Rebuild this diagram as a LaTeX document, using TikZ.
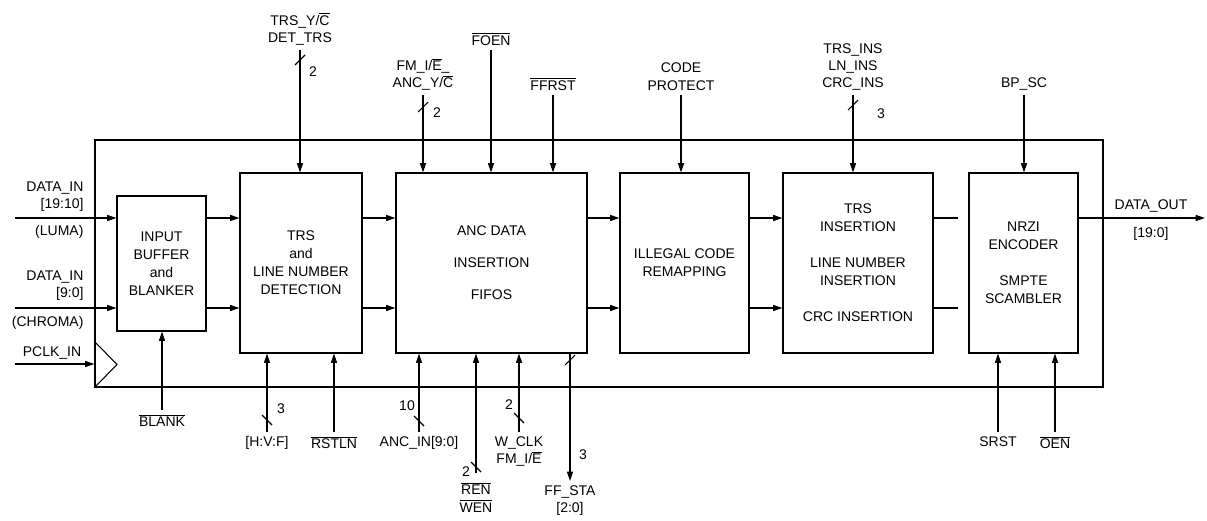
\documentclass[tikz,border=0pt]{standalone}
\usepackage{fontspec}
\setmainfont{Liberation Sans}
\usetikzlibrary{arrows.meta}
\newcommand{\ovl}[1]{$\overline{\mbox{#1}}$}
\newcommand{\slashR}[1]{\draw ([shift={(-5,5)}]#1) -- ([shift={(5,-5)}]#1);}
\newcommand{\slashL}[1]{\draw ([shift={(-5,-5)}]#1) -- ([shift={(5,5)}]#1);}

\begin{document}
\begin{tikzpicture}[
  x=0.75pt, y=-0.75pt, line width=0.8pt,
  every node/.style={font=\fontsize{10.5}{13}\selectfont},
  blk/.style={draw, rectangle, inner sep=0pt, minimum height=135pt, align=center, font=\fontsize{10.5}{13.5}\selectfont},
  sig/.style={inner sep=3pt, align=center},
  arr/.style={-{Triangle[length=7pt,width=4.5pt]}},
]
\useasboundingbox (0,0) rectangle (1207,521);

\node[draw, inner sep=0pt, minimum width=756pt, minimum height=185.25pt] (chip) at (599,263.5) {};
\node[blk, minimum width=66.75pt, minimum height=101.25pt] (buf) at (161.5,263.5) {INPUT\\BUFFER\\and\\BLANKER};
\node[blk, minimum width=91.5pt] (det) at (301,263) {TRS\\and\\LINE NUMBER\\DETECTION};
\node[blk, minimum width=143.25pt] (fifo) at (491.5,263) {ANC DATA\\[10.5pt]INSERTION\\[10.5pt]FIFOS};
\node[blk, minimum width=96.75pt] (remap) at (684.5,263) {ILLEGAL CODE\\REMAPPING};
\node[blk, minimum width=112.5pt] (ins) at (858,263) {TRS\\INSERTION\\[13.5pt]LINE NUMBER\\INSERTION\\[13.5pt]CRC INSERTION};
\node[blk, minimum width=81.75pt] (enc) at (1023.5,263) {NRZI\\ENCODER\\[13.5pt]SMPTE\\SCAMBLER};

\coordinate (up) at (0,218);
\coordinate (dn) at (0,308);
\coordinate (luma) at (15,218);
\coordinate (chroma) at (15,308);
\coordinate (pclk) at (15,364);
\coordinate (gapA) at (958,218);
\coordinate (gapB) at (958,308);
\coordinate (dout) at (1205,218);

\node[sig, anchor=east, align=right] (lumalbl) at (88,196.5) {DATA\_IN\\{[19:10]}};
\node[sig, anchor=east] (lumanote) at (88,232) {(LUMA)};
\node[sig, anchor=east, align=right] (chromalbl) at (88,285.5) {DATA\_IN\\{[9:0]}};
\node[sig, anchor=east] (chromanote) at (88,323) {(CHROMA)};
\node[sig] (pclklbl) at (52,353) {PCLK\_IN};
\node[sig] (doutlbl) at (1151,206) {DATA\_OUT};
\node[sig] (doutbus) at (1151,234) {[19:0]};

\draw[arr] (luma) -- (buf.west |- up);
\draw[arr] (chroma) -- (buf.west |- dn);
\draw[arr] (pclk) -- (chip.west |- pclk);
\draw (95,342) -- (117,364.5) -- (95,387);
\draw[arr] (buf.east |- up) -- (det.west |- up);
\draw[arr] (buf.east |- dn) -- (det.west |- dn);
\draw[arr] (det.east |- up) -- (fifo.west |- up);
\draw[arr] (det.east |- dn) -- (fifo.west |- dn);
\draw[arr] (fifo.east |- up) -- (remap.west |- up);
\draw[arr] (fifo.east |- dn) -- (remap.west |- dn);
\draw[arr] (remap.east |- up) -- (ins.west |- up);
\draw[arr] (remap.east |- dn) -- (ins.west |- dn);
\draw (ins.east |- up) -- (gapA);
\draw (ins.east |- dn) -- (gapB);
\draw[arr] (enc.east |- up) -- (dout);

\node[sig, anchor=south] (trsdet) at (300,50) {TRS\_Y/\ovl{C}\\DET\_TRS};
\node[sig, anchor=south] (ancyc) at (423,95) {FM\_I/\ovl{E}\_\\ANC\_Y/\ovl{C}};
\node[sig, anchor=south] (foen) at (491,50) {\ovl{FOEN}};
\node[sig, anchor=south] (ffrst) at (553,95) {\ovl{FFRST}};
\node[sig, anchor=south] (codeprot) at (681,95) {CODE\\PROTECT};
\node[sig, anchor=south] (trsins) at (853,95) {TRS\_INS\\LN\_INS\\CRC\_INS};
\node[sig, anchor=south] (bpsc) at (1024,95) {BP\_SC};

\draw[arr] (trsdet.south) -- (trsdet.south |- det.north);
\draw[arr] (ancyc.south) -- (ancyc.south |- fifo.north);
\draw[arr] (foen.south) -- (foen.south |- fifo.north);
\draw[arr] (ffrst.south) -- (ffrst.south |- fifo.north);
\draw[arr] (codeprot.south) -- (codeprot.south |- remap.north);
\draw[arr] (trsins.south) -- (trsins.south |- ins.north);
\draw[arr] (bpsc.south) -- (bpsc.south |- enc.north);

\node[sig, anchor=north] (blank) at (162,410) {\ovl{BLANK}};
\node[sig, anchor=north] (hvf) at (267,432) {[H:V:F]};
\node[sig, anchor=north] (rstln) at (334,432) {\ovl{RSTLN}};
\node[sig, anchor=north] (ancin) at (419,432) {ANC\_IN[9:0]};
\node[sig, anchor=north] (renwen) at (476,478) {\ovl{REN}\\\ovl{WEN}};
\node[sig, anchor=north] (wclk) at (519,432) {W\_CLK\\FM\_I/\ovl{E}};
\node[sig, anchor=north] (ffsta) at (570,481) {FF\_STA\\{[2:0]}};
\node[sig, anchor=north] (srst) at (998,432) {SRST};
\node[sig, anchor=north] (oen) at (1055,432) {\ovl{OEN}};

\draw[arr] (blank.north) -- (blank.north |- buf.south);
\draw[arr] (hvf.north) -- (hvf.north |- det.south);
\draw[arr] (rstln.north) -- (rstln.north |- det.south);
\draw[arr] (ancin.north) -- (ancin.north |- fifo.south);
\draw[arr] (476,473) coordinate (renwenend) -- (renwenend |- fifo.south);
\draw[arr] (wclk.north) -- (wclk.north |- fifo.south);
\draw[arr] (ffsta.north |- fifo.south) -- (ffsta.north);
\draw[arr] (srst.north) -- (srst.north |- enc.south);
\draw[arr] (oen.north) -- (oen.north |- enc.south);

\slashR{300,60}
\slashR{423,107}
\slashR{853,105}
\slashL{267,420}
\slashL{419,421}
\slashL{476,467}
\slashL{519,418}
\slashR{570,360}

\node (ntrs) at (313,72) {2};
\node (nanc) at (437,113) {2};
\node (nins) at (881,114) {3};
\node (nhvf) at (281,409) {3};
\node (nancin) at (407,406) {10};
\node (nren) at (466,472) {2};
\node (nwclk) at (509,405) {2};
\node (nff) at (583,455) {3};
\end{tikzpicture}
\end{document}
